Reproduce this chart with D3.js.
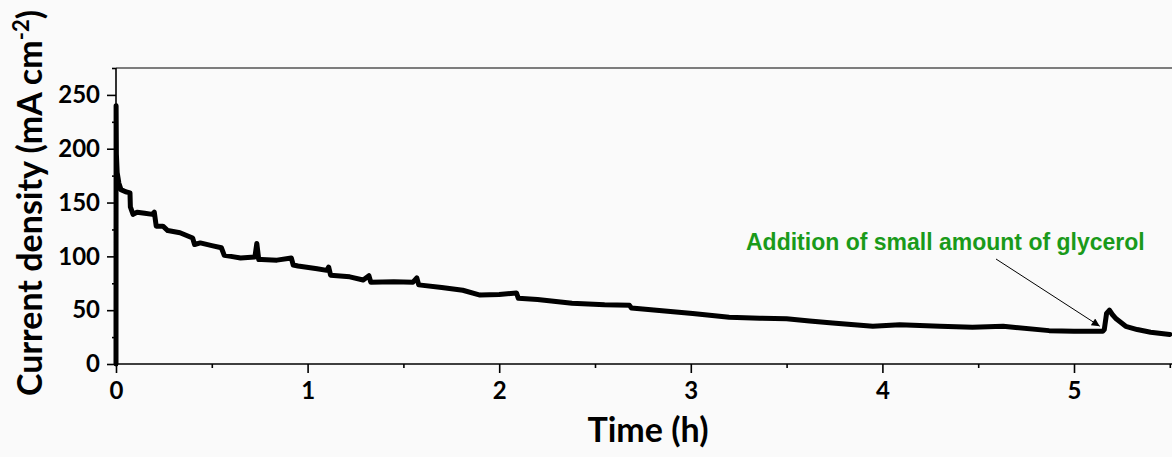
<!DOCTYPE html>
<html>
<head>
<meta charset="utf-8">
<script src="https://cdn.jsdelivr.net/npm/d3@7"></script>
<style>
  html, body { margin: 0; padding: 0; background: #fafafa; }
  svg { display: block; }
  text { font-family: Lato, "Open Sans", sans-serif; font-weight: 700; fill: #000; }
</style>
</head>
<body>
<svg id="chart" width="1172" height="457"></svg>
<script>
// Chronoamperometry trace: time (h) vs current density (mA cm^-2)
const timeH = [
  0, 0.0005, 0.002, 0.006, 0.015, 0.026, 0.05, 0.073, 0.075, 0.089, 0.11, 0.15, 0.19, 0.2, 0.21,
  0.245, 0.27, 0.334, 0.40, 0.41, 0.44, 0.50, 0.55, 0.565, 0.60, 0.65, 0.725, 0.735,
  0.745, 0.76, 0.84, 0.915, 0.925, 0.95, 1.05, 1.10, 1.11, 1.12, 1.22, 1.29, 1.32,
  1.33, 1.45, 1.55, 1.57, 1.58, 1.70, 1.81, 1.90, 2.00, 2.09, 2.10, 2.20, 2.38,
  2.55, 2.68, 2.69, 2.85, 3.01, 3.20, 3.36, 3.50, 3.62, 3.74, 3.95, 4.09, 4.30,
  4.47, 4.63, 4.87, 5.00, 5.15, 5.158, 5.17, 5.185, 5.20, 5.22, 5.27, 5.33, 5.40, 5.5
];
const currentDensity = [
  0, 240, 195, 178, 168, 162, 160, 159, 146, 139, 141, 140, 139, 141, 128,
  128, 124, 122, 117, 111, 112.5, 110, 108, 101, 100, 98.5, 99.5, 112,
  97, 97, 96.5, 98.5, 92, 91, 88.5, 87, 90, 82.5, 81, 78, 82,
  76, 76.5, 76, 80, 73.5, 71, 68.5, 64, 64.5, 66, 61, 60, 56.5,
  55, 54.5, 52, 49.5, 47, 43.5, 42.5, 42, 40, 38, 35, 36.5, 35,
  34.2, 35, 31, 30.5, 30.5, 32, 47, 50, 46, 42, 35, 32, 29.5, 27.5
];

const xTicks = [0, 1, 2, 3, 4, 5];
const yTicks = [0, 50, 100, 150, 200, 250];
const xLabel = "Time (h)";
const yLabel = "Current density (mA cm";
const noteText = "Addition of small amount of glycerol";
const noteTime = 5.15;
const noteValue = 30.5;

const svg = d3.select("#chart");
const m = { left: 116, top: 68, bottom: 364, right: 1172 };

const x = d3.scaleLinear().domain([0, 5.5]).range([m.left, m.left + 5.5 * 191.6]);
const y = d3.scaleLinear().domain([0, 275]).range([m.bottom, m.top]);

// frame top line
svg.append("line")
  .attr("x1", m.left).attr("x2", m.right)
  .attr("y1", m.top).attr("y2", m.top)
  .attr("stroke", "#000").attr("stroke-width", 1.2);

const tickFont = g => g.selectAll(".tick text")
  .style("font-size", "24px").style("font-family", "Lato, sans-serif").style("font-weight", 700);

// x axis with minor ticks
const gx = svg.append("g").attr("transform", `translate(0,${m.bottom})`);
gx.call(d3.axisBottom(x).tickValues(d3.range(0.5, 5.6, 1)).tickSize(4).tickFormat(""));
gx.append("g").call(d3.axisBottom(x).tickValues(xTicks).tickSize(9).tickPadding(9).tickFormat(d3.format("d")))
  .call(g => g.select(".domain").remove());
gx.selectAll(".domain").attr("stroke-width", 1.6).attr("d", `M${m.left},0H${m.right}`);
gx.selectAll(".tick line").attr("stroke-width", 1.6);
tickFont(gx);

// y axis with minor ticks
const gy = svg.append("g").attr("transform", `translate(${m.left},0)`);
gy.call(d3.axisLeft(y).tickValues(d3.range(25, 276, 50)).tickSize(4).tickFormat(""));
gy.append("g").call(d3.axisLeft(y).tickValues(yTicks).tickSize(9).tickPadding(7).tickFormat(d3.format("d")))
  .call(g => g.select(".domain").remove());
gy.selectAll(".domain").attr("stroke-width", 1.6).attr("d", `M0,${m.bottom}V${m.top}`);
gy.selectAll(".tick line").attr("stroke-width", 1.6);
tickFont(gy);

// data trace
const line = d3.line().x((d, i) => x(timeH[i])).y(d => y(d));
svg.append("path")
  .datum(currentDensity)
  .attr("d", line)
  .attr("fill", "none")
  .attr("stroke", "#000")
  .attr("stroke-width", 5)
  .attr("stroke-linejoin", "round")
  .attr("stroke-linecap", "round");

// axis titles
svg.append("text")
  .attr("x", (m.left + m.right) / 2 + 4).attr("y", 442)
  .attr("text-anchor", "middle")
  .style("font-size", "34px")
  .text(xLabel);

const yt = svg.append("text")
  .attr("transform", "translate(42,203) rotate(-90)")
  .attr("text-anchor", "middle")
  .style("font-size", "34px");
yt.append("tspan").text(yLabel);
yt.append("tspan").attr("dy", -13).style("font-size", "22px").text("-2");
yt.append("tspan").attr("dy", 13).text(")");

// annotation with arrow
const defs = svg.append("defs");
defs.append("marker")
  .attr("id", "arrowhead")
  .attr("viewBox", "0 0 10 10")
  .attr("refX", 10).attr("refY", 5)
  .attr("markerWidth", 10).attr("markerHeight", 8)
  .attr("markerUnits", "userSpaceOnUse")
  .attr("orient", "auto")
  .append("path").attr("d", "M0,0L10,5L0,10z").attr("fill", "#000");

svg.append("line")
  .attr("x1", 996).attr("y1", 259)
  .attr("x2", x(noteTime) - 3).attr("y2", y(noteValue) - 5)
  .attr("stroke", "#000").attr("stroke-width", 1)
  .attr("marker-end", "url(#arrowhead)");

svg.append("text")
  .attr("x", 746).attr("y", 250)
  .style("font-family", "'Liberation Sans', Arial, sans-serif")
  .style("font-size", "23px")
  .style("fill", "#1a9a1a")
  .text(noteText);
</script>
</body>
</html>
